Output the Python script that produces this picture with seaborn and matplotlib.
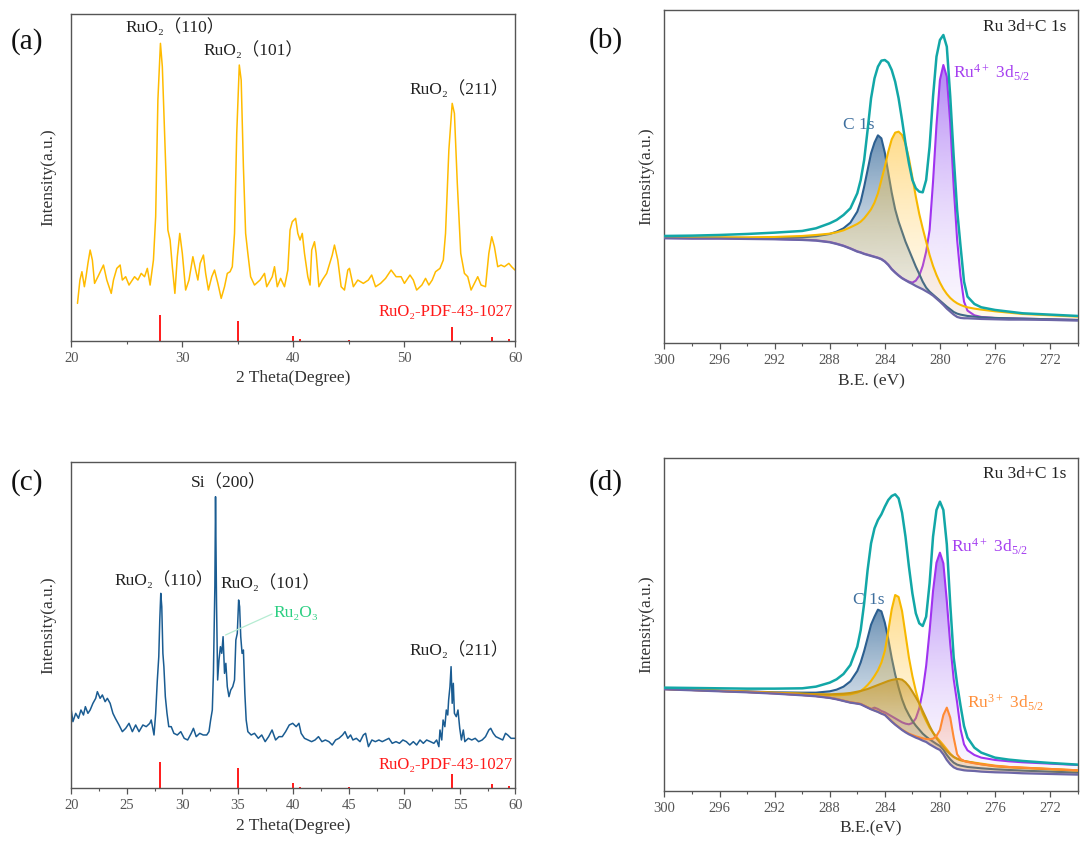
import matplotlib.pyplot as plt
import matplotlib.colors as mcolors
import numpy as np
import seaborn as sns

# ---------------- XRD data (a) ----------------
tt_a = [20.56, 20.78, 20.96, 21.18, 21.33, 21.5, 21.7, 21.9, 22.1, 22.4,
        22.9, 23.2, 23.6, 23.8, 24.1, 24.4, 24.6, 24.9, 25.2, 25.7,
        26.0, 26.3, 26.6, 26.85, 27.1, 27.4, 27.6, 27.8, 28.03, 28.2,
        28.5, 28.7, 28.9, 29.1, 29.33, 29.55, 29.77, 30.0, 30.3, 30.6,
        30.95, 31.2, 31.4, 31.6, 31.9, 32.1, 32.35, 32.65, 32.9, 33.2,
        33.5, 33.8, 34.05, 34.3, 34.5, 34.7, 34.9, 35.13, 35.3, 35.5,
        35.7, 35.9, 36.15, 36.5, 37.0, 37.4, 37.6, 38.1, 38.3, 38.55,
        38.85, 39.2, 39.5, 39.7, 39.9, 40.2, 40.4, 40.6, 40.8, 41.0,
        41.3, 41.5, 41.65, 41.9, 42.05, 42.3, 42.6, 43.0, 43.5, 43.7,
        44.0, 44.3, 44.6, 44.9, 45.05, 45.4, 45.8, 46.3, 46.75, 47.05,
        47.4, 47.85, 48.3, 48.8, 49.25, 49.7, 50.0, 50.5, 50.8, 51.1,
        51.57, 51.9, 52.2, 52.5, 52.8, 53.2, 53.5, 53.7, 54.0, 54.3,
        54.5, 54.76, 55.07, 55.4, 55.7, 56.0, 56.3, 56.6, 56.9, 57.3,
        57.6, 57.86, 58.1, 58.4, 58.7, 59.0, 59.4, 59.65, 59.95]
int_a = [112, 182, 207, 162, 192, 232, 272, 242, 172, 192,
         227, 182, 142, 182, 217, 227, 182, 192, 167, 192,
         182, 202, 192, 217, 167, 242, 372, 722, 892, 822,
         522, 332, 302, 222, 142, 252, 322, 262, 152, 182,
         252, 212, 182, 232, 257, 202, 152, 192, 212, 172,
         127, 162, 202, 207, 222, 322, 622, 827, 782, 522,
         322, 262, 192, 167, 182, 202, 162, 192, 222, 162,
         187, 162, 212, 332, 357, 367, 322, 302, 322, 262,
         192, 167, 272, 297, 262, 162, 182, 202, 257, 287,
         242, 162, 152, 212, 217, 162, 182, 172, 182, 197,
         162, 172, 187, 212, 192, 192, 172, 197, 182, 152,
         167, 187, 167, 182, 207, 217, 242, 322, 572, 712,
         682, 472, 262, 202, 192, 152, 172, 192, 167, 162,
         262, 312, 282, 222, 227, 222, 232, 222, 212]

# ---------------- XRD data (c) ----------------
tt_c = [20.0, 20.15, 20.4, 20.65, 20.87, 21.1, 21.27, 21.5, 21.7, 21.95,
        22.2, 22.35, 22.6, 22.8, 23.05, 23.25, 23.5, 23.75, 23.97, 24.3,
        24.6, 24.9, 25.2, 25.5, 25.8, 26.1, 26.45, 26.75, 27.07, 27.2,
        27.45, 27.6, 27.75, 27.88, 27.97, 28.06, 28.15, 28.25, 28.34, 28.47,
        28.62, 28.78, 29.0, 29.24, 29.55, 29.86, 30.17, 30.48, 30.8, 31.0,
        31.25, 31.57, 31.88, 32.2, 32.4, 32.55, 32.7, 32.8, 32.93, 32.99,
        33.08, 33.18, 33.3, 33.43, 33.55, 33.67, 33.8, 33.92, 34.05, 34.2,
        34.36, 34.54, 34.7, 34.82, 34.95, 35.07, 35.16, 35.26, 35.38, 35.5,
        35.63, 35.75, 35.9, 36.2, 36.5, 36.84, 37.15, 37.46, 37.77, 38.08,
        38.4, 38.7, 39.0, 39.3, 39.63, 39.94, 40.25, 40.5, 40.7, 41.0,
        41.33, 41.64, 41.95, 42.26, 42.57, 42.88, 43.2, 43.5, 43.8, 44.1,
        44.43, 44.65, 44.9, 45.15, 45.36, 45.67, 46.0, 46.3, 46.5, 46.76,
        47.07, 47.38, 47.7, 48.0, 48.3, 48.6, 48.9, 49.24, 49.55, 49.86,
        50.17, 50.48, 50.8, 51.1, 51.4, 51.7, 52.0, 52.34, 52.65, 52.9,
        53.1, 53.2, 53.36, 53.48, 53.64, 53.77, 53.9, 53.98, 54.1, 54.2,
        54.3, 54.4, 54.5, 54.67, 54.82, 54.98, 55.13, 55.3, 55.44, 55.75,
        56.06, 56.37, 56.68, 57.0, 57.3, 57.6, 57.77, 58.0, 58.23, 58.54,
        58.85, 59.1, 59.3, 59.6, 59.94]
int_c = [235, 200, 225, 210, 235, 220, 245, 225, 235, 255,
         270, 290, 270, 280, 260, 270, 255, 225, 210, 190,
         170, 180, 195, 170, 190, 170, 190, 185, 195, 205,
         160, 225, 325, 395, 505, 585, 545, 405, 365, 275,
         225, 185, 185, 165, 160, 170, 150, 145, 165, 180,
         155, 165, 160, 160, 170, 205, 235, 345, 605, 875,
         555, 325, 385, 425, 405, 455, 345, 375, 305, 275,
         295, 305, 325, 445, 465, 565, 545, 455, 405, 415,
         285, 205, 170, 160, 165, 150, 160, 140, 155, 175,
         145, 155, 155, 170, 190, 195, 185, 195, 165, 150,
         145, 140, 145, 155, 140, 145, 140, 130, 145, 150,
         160, 170, 150, 160, 145, 150, 140, 160, 165, 125,
         145, 140, 145, 140, 145, 150, 135, 140, 135, 145,
         140, 130, 140, 130, 145, 135, 145, 140, 135, 145,
         125, 175, 145, 205, 185, 235, 220, 265, 305, 365,
         255, 315, 225, 215, 235, 180, 145, 175, 140, 150,
         145, 150, 140, 145, 155, 175, 180, 165, 155, 150,
         145, 165, 160, 150, 150]

# RuO2 PDF#43-1027 reference sticks
pdf_pos = [28.03, 35.05, 40.0, 40.56, 45.0, 54.25, 57.86, 59.41]
pdf_h_a = [77, 60, 15, 4, 2, 42, 10, 5]
pdf_h_c = [80, 62, 17, 5, 3, 43, 13, 8]

# ---------------- XPS data (binding energy grid, eV) ----------------
be = [300, 298, 296, 294, 292, 290, 289, 288, 287.5, 287,
      286.5, 286, 285.75, 285.5, 285.25, 285, 284.75, 284.5, 284.25, 284,
      283.75, 283.5, 283.25, 283, 282.75, 282.5, 282.25, 282, 281.75, 281.5,
      281.25, 281, 280.75, 280.5, 280.25, 280, 279.75, 279.5, 279.25, 279,
      278.75, 278.5, 278.25, 278, 277.5, 277, 276, 275, 274, 272, 270]

# (b)
bg_b = [315, 314, 314, 313, 312, 310, 308, 303, 298, 292,
        284, 275, 272, 268, 265, 262, 259, 256, 252, 245,
        235, 222, 212, 203, 195, 189, 183, 178, 172, 167,
        162, 156, 150, 143, 134, 125, 115, 104, 95, 86,
        79, 76, 75, 75, 74, 73, 72, 71, 71, 70, 68]
c1s_b = [317, 317, 317, 316, 316, 318, 321, 328, 335, 345,
         362, 395, 425, 470, 520, 570, 602, 624, 615, 572,
         512, 452, 402, 365, 335, 305, 280, 255, 230, 208,
         185, 167, 155, 146, 137, 128, 119, 110, 102, 94,
         89, 86, 84, 82, 80, 78, 76, 75, 74, 72, 70]
yel_b = [318, 318, 318, 318, 319, 322, 325, 329, 333, 339,
         348, 358, 365, 375, 388, 402, 422, 450, 490, 530,
         575, 612, 632, 635, 625, 598, 555, 498, 440, 388,
         345, 305, 265, 232, 205, 182, 163, 148, 136, 127,
         120, 115, 111, 108, 104, 101, 96, 92, 88, 84, 80]
ru4_b = [316, 315, 315, 314, 313, 311, 309, 304, 299, 293,
         285, 276, 273, 269, 266, 263, 260, 257, 253, 246,
         236, 223, 213, 204, 196, 190, 185, 182, 188, 203,
         232, 275, 340, 485, 655, 790, 835, 800, 660, 470,
         310, 200, 125, 98, 84, 79, 76, 75, 74, 72, 70]
env_b = [322, 323, 325, 328, 332, 337, 345, 360, 370, 385,
         405, 450, 490, 550, 640, 735, 795, 830, 848, 850,
         842, 820, 785, 735, 670, 600, 540, 490, 465, 455,
         453, 490, 590, 740, 860, 910, 925, 890, 740, 560,
         400, 290, 185, 140, 118, 108, 100, 95, 90, 86, 82]

# (d)
bg_d = [305, 302, 299, 296, 292, 287, 284, 279, 275, 270,
        265, 262, 260, 255, 250, 245, 241, 237, 232, 228,
        218, 208, 199, 191, 183, 176, 170, 165, 160, 156,
        151, 147, 140, 134, 128, 123, 110, 93, 80, 71,
        66, 64, 62, 61, 60, 58, 56, 55, 53, 51, 49]
c1s_d = [306, 304, 301, 299, 296, 295, 295, 299, 304, 313,
         329, 360, 386, 420, 459, 499, 523, 544, 539, 505,
         456, 399, 350, 310, 275, 248, 228, 210, 196, 184,
         172, 163, 155, 148, 141, 135, 124, 108, 95, 85,
         79, 76, 74, 72, 70, 68, 65, 63, 61, 58, 55]
yel_d = [306, 304, 301, 298, 295, 292, 290, 288, 287, 288,
         290, 295, 300, 308, 318, 330, 345, 362, 385, 420,
         480, 545, 588, 582, 540, 470, 400, 345, 300, 262,
         232, 210, 190, 175, 162, 150, 138, 125, 112, 102,
         96, 92, 90, 88, 85, 82, 76, 72, 70, 66, 62]
gold_d = [306, 303, 300, 297, 294, 291, 290, 290, 291, 292,
          294, 298, 300, 303, 306, 310, 314, 318, 322, 326,
          330, 333, 335, 336, 334, 326, 314, 298, 281, 263,
          240, 218, 195, 175, 158, 145, 132, 120, 110, 102,
          97, 93, 90, 88, 84, 80, 74, 71, 69, 65, 61]
ru4_d = [306, 303, 300, 297, 293, 288, 285, 280, 276, 271,
         266, 263, 261, 256, 251, 246, 250, 246, 240, 236,
         230, 224, 218, 212, 206, 202, 200, 204, 218, 248,
         300, 375, 480, 600, 685, 715, 683, 570, 440, 335,
         265, 185, 140, 122, 108, 100, 93, 89, 86, 82, 78]
ru3_d = [306, 303, 300, 297, 293, 288, 285, 280, 276, 271,
         266, 263, 261, 256, 251, 246, 242, 238, 233, 229,
         219, 209, 200, 192, 184, 178, 172, 168, 164, 161,
         158, 156, 155, 157, 165, 183, 228, 250, 220, 160,
         110, 96, 90, 87, 83, 80, 75, 72, 70, 66, 62]
env_d = [310, 309, 308, 307, 307, 308, 313, 325, 335, 351,
         378, 433, 483, 563, 663, 743, 788, 813, 830, 853,
         873, 885, 890, 878, 835, 763, 673, 593, 533, 503,
         495, 523, 623, 763, 843, 868, 843, 740, 560, 400,
         320, 255, 195, 160, 130, 115, 100, 94, 90, 84, 79]

# ---------------- style ----------------
sns.set_theme(style="white")
plt.rcParams['font.family'] = ['Liberation Serif', 'Noto Sans CJK SC']
plt.rcParams['mathtext.fontset'] = 'custom'
plt.rcParams['mathtext.rm'] = 'Liberation Serif'
plt.rcParams['mathtext.default'] = 'regular'

GRAY = '#555555'
TEAL = '#12a7a7'
BLUE = '#2c5f90'
YEL = '#f7b800'
PURP = '#a033f0'
GOLD = '#c89510'
ORNG = '#ff8a33'
BGC = '#6c66a6'

fig = plt.figure(figsize=(10.88, 8.55), dpi=100)
ax_a = fig.add_axes([0.0655, 0.6015, 0.4083, 0.3821])
ax_c = fig.add_axes([0.0655, 0.0780, 0.4083, 0.3820])
ax_b = fig.add_axes([0.6107, 0.5985, 0.3798, 0.3898])
ax_d = fig.add_axes([0.6107, 0.0749, 0.3798, 0.3898])


def style_axes(ax, xlabel, labelpad_y):
    for sp in ax.spines.values():
        sp.set_color(GRAY)
        sp.set_linewidth(1.0)
    ax.set_yticks([])
    ax.tick_params(axis='x', which='both', direction='out', colors=GRAY,
                   labelsize=10.5, bottom=True, pad=4)
    ax.tick_params(axis='x', which='major', length=4, width=0.9)
    ax.tick_params(axis='x', which='minor', length=2.5, width=0.8)
    ax.set_xlabel(xlabel, fontsize=12.5, color='#333333', labelpad=4)
    ax.set_ylabel('Intensity(a.u.)', fontsize=12.5, color='#333333',
                  labelpad=labelpad_y)


def gradient_fill(ax, x, top, bottom, color, a_top, a_bot, z):
    # vertical colour fade, clipped to the area between the two curves
    poly = ax.fill_between(x, bottom, top, facecolor='none', lw=0)
    path = poly.get_paths()[0]
    t = np.linspace(1, 0, 256) ** 1.7
    grad = np.zeros((256, 1, 4))
    grad[:, 0, :3] = mcolors.to_rgb(color)
    grad[:, 0, 3] = a_bot + (a_top - a_bot) * t
    im = ax.imshow(grad, aspect='auto', origin='upper', zorder=z,
                   extent=(min(x), max(x), min(bottom), max(top)))
    im.set_clip_path(path, transform=ax.transData)


def xrd_panel(ax, tt, inten, color, heights, xmaj, xmin):
    sns.lineplot(x=tt, y=inten, ax=ax, color=color, lw=1.1, sort=False,
                 estimator=None)
    ax.vlines(pdf_pos, 0, heights, color='#ff1a1a', lw=1.4)
    ax.set_xlim(20, 60)
    ax.set_ylim(0, 980)
    ax.set_xticks(np.arange(20, 61, xmaj))
    ax.set_xticks(np.arange(20, 61, xmin), minor=True)
    style_axes(ax, '2 Theta(Degree)', 11)


LBL = dict(fontsize=12.5, color='#222222')

# (a)
xrd_panel(ax_a, tt_a, int_a, '#ffbb00', pdf_h_a, 10, 5)
ax_a.text(24.9, 942, 'RuO₂（110）', va='center', **LBL)
ax_a.text(31.94, 872, 'RuO₂（101）', va='center', **LBL)
ax_a.text(50.48, 754, 'RuO₂（211）', va='center', **LBL)
ax_a.text(59.72, 87, 'RuO₂-PDF-43-1027', ha='right', va='center',
          fontsize=12, color='#ff1a1a')

# (c)
xrd_panel(ax_c, tt_c, int_c, '#1a5c92', pdf_h_c, 5, 2.5)
ax_c.text(23.9, 625, 'RuO₂（110）', va='center', **LBL)
ax_c.text(30.8, 915, 'Si（200）', va='center', **LBL)
ax_c.text(33.43, 615, 'RuO₂（101）', va='center', **LBL)
ax_c.text(50.48, 415, 'RuO₂（211）', va='center', **LBL)
ax_c.text(59.78, 70, 'RuO₂-PDF-43-1027', ha='right', va='center',
          fontsize=12, color='#ff1a1a')
ax_c.plot([33.89, 38.08], [460, 523], color='#b5ecd2', lw=0.9)
ax_c.text(38.23, 527, 'Ru₂O₃', va='center', fontsize=12.5, color='#2ccf82')


def xps_panel(ax, comps, bg, env, xlabel):
    z = 2
    for y, line_c, fill_c, a_top, a_bot in comps:
        gradient_fill(ax, be, y, bg, fill_c, a_top, a_bot, z)
        sns.lineplot(x=be, y=y, ax=ax, color=line_c, lw=1.5, sort=False,
                     estimator=None, zorder=z + 0.5)
        z += 1
    sns.lineplot(x=be, y=bg, ax=ax, color=BGC, lw=1.6, sort=False,
                 estimator=None, zorder=z)
    sns.lineplot(x=be, y=env, ax=ax, color=TEAL, lw=1.8, sort=False,
                 estimator=None, zorder=z + 1)
    ax.set_xlim(300, 270)
    ax.set_ylim(0, 1000)
    ax.set_xticks(np.arange(300, 271, -4))
    ax.set_xticks(np.arange(300, 269, -2), minor=True)
    style_axes(ax, xlabel, 7)
    ax.text(270.85, 950, 'Ru 3d+C 1s', ha='right', va='center', **LBL)


# (b)
xps_panel(ax_b,
          [(ru4_b, PURP, '#9a5cf2', 0.75, 0.06),
           (c1s_b, BLUE, '#2f6496', 0.72, 0.08),
           (yel_b, YEL, '#ffc43a', 0.6, 0.1)],
          bg_b, env_b, 'B.E. (eV)')
ax_b.text(285.9, 655, 'C 1s', ha='center', va='center', fontsize=12.5,
          color='#3e6f9e')
ax_b.text(279.08, 810, 'Ru$^{4+}$ 3d$_{5/2}$', va='center', fontsize=12.5,
          color='#a53ff0')

# (d)
xps_panel(ax_d,
          [(ru4_d, PURP, '#9a5cf2', 0.75, 0.06),
           (c1s_d, BLUE, '#2f6496', 0.72, 0.08),
           (yel_d, YEL, '#ffc43a', 0.6, 0.1),
           (gold_d, GOLD, '#c89520', 0.6, 0.12),
           (ru3_d, ORNG, '#ff8f5a', 0.55, 0.12)],
          bg_d, env_d, 'B.E.(eV)')
ax_d.text(286.3, 573, 'C 1s', va='center', fontsize=12.5, color='#3e6f9e')
ax_d.text(279.2, 733, 'Ru$^{4+}$ 3d$_{5/2}$', va='center', fontsize=12.5,
          color='#a53ff0')
ax_d.text(278.07, 263, 'Ru$^{3+}$ 3d$_{5/2}$', va='center', fontsize=12.5,
          color='#ff8f3a')

# panel letters
for (px, py), s in zip([(0.0249, 0.952), (0.5564, 0.953),
                        (0.0249, 0.4359), (0.5564, 0.4359)],
                       ['(a)', '(b)', '(c)', '(d)']):
    fig.text(px, py, s, ha='center', va='center', fontsize=21,
             color='#111111')

fig.savefig('out.png', dpi=100)
